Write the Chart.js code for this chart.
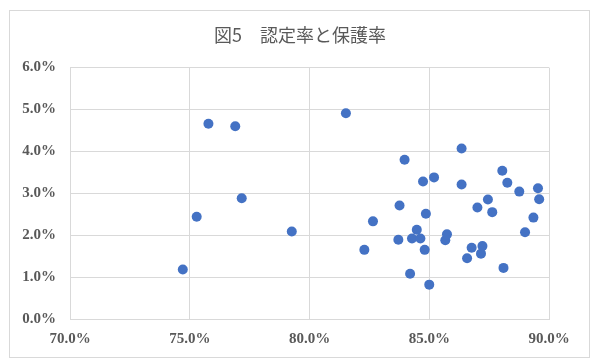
<!DOCTYPE html>
<html>
<head>
<meta charset="utf-8">
<script src="https://cdn.jsdelivr.net/npm/chart.js@4"></script>
<style>
    body { margin: 0; background: #fff; }
    #wrap { position: relative; width: 600px; height: 363px; }
    #frame { position: absolute; left: 9px; top: 10px; width: 579px; height: 346px; border: 1px solid #d9d9d9; }
    #chart { position: absolute; left: 0; top: 0; }
</style>
</head>
<body>
<div id="wrap">
    <div id="frame"></div>
    <canvas id="chart" width="600" height="363"></canvas>
</div>
<script>
// 認定率 (x, %) and 保護率 (y, %)
const ninteiRate = [
    74.71, 75.29, 75.78, 76.90, 77.17, 79.26,
    81.52, 82.29, 82.65, 83.71, 83.76, 83.97, 84.20, 84.28, 84.48, 84.63,
    84.74, 84.81, 84.86, 85.00, 85.20, 85.67, 85.74, 86.35, 86.35, 86.58,
    86.77, 87.01, 87.16, 87.22, 87.45, 87.63, 88.05, 88.10, 88.26, 88.76,
    89.00, 89.35, 89.54, 89.59
];
const hogoRate = [
    1.18, 2.44, 4.66, 4.60, 2.88, 2.09,
    4.91, 1.65, 2.33, 1.89, 2.71, 3.80, 1.08, 1.92, 2.13, 1.92,
    3.28, 1.65, 2.51, 0.82, 3.38, 1.88, 2.02, 4.07, 3.21, 1.45,
    1.70, 2.66, 1.56, 1.74, 2.85, 2.55, 3.54, 1.22, 3.25, 3.04,
    2.07, 2.42, 3.12, 2.86
];
const xTicks = [70, 75, 80, 85, 90];
const yTicks = [0, 1, 2, 3, 4, 5, 6];

const points = ninteiRate.map((x, i) => ({ x: x, y: hogoRate[i] }));

const tickFont = { family: "'Liberation Serif', 'Times New Roman', serif", size: 15, weight: "bold" };
const gridColor = "#d9d9d9";

const ctx = document.getElementById("chart").getContext("2d");
new Chart(ctx, {
    type: "scatter",
    data: {
        datasets: [{
            label: "保護率",
            data: points,
            backgroundColor: "#4472c4",
            borderColor: "#4472c4",
            borderWidth: 0,
            pointRadius: 5,
            pointHoverRadius: 5
        }]
    },
    options: {
        responsive: false,
        animation: false,
        layout: { padding: 0 },
        plugins: {
            legend: { display: false },
            tooltip: { enabled: false },
            title: {
                display: true,
                text: "図5　認定率と保護率",
                color: "#595959",
                font: { family: "'Noto Sans CJK JP', sans-serif", size: 18, weight: "normal" },
                padding: { top: 24, bottom: 22 }
            }
        },
        scales: {
            x: {
                type: "linear",
                min: xTicks[0],
                max: xTicks[xTicks.length - 1],
                afterBuildTicks: (axis) => { axis.ticks = xTicks.map(v => ({ value: v })); },
                afterFit: (axis) => { axis.height = 44; },
                ticks: {
                    color: "#595959",
                    font: tickFont,
                    padding: 11,
                    maxRotation: 0,
                    callback: (v) => v.toFixed(1) + "%"
                },
                grid: { color: gridColor, drawTicks: false },
                border: { color: gridColor }
            },
            y: {
                type: "linear",
                min: yTicks[0],
                max: yTicks[yTicks.length - 1],
                afterBuildTicks: (axis) => { axis.ticks = yTicks.map(v => ({ value: v })); },
                afterFit: (axis) => { axis.width = 70; },
                ticks: {
                    color: "#595959",
                    font: tickFont,
                    padding: 14,
                    callback: (v) => v.toFixed(1) + "%"
                },
                grid: { color: gridColor, drawTicks: false },
                border: { color: gridColor }
            },
            // empty right axis, only keeps the space on the right
            yRight: {
                type: "linear",
                position: "right",
                min: 0,
                max: 1,
                afterFit: (axis) => { axis.width = 51; },
                ticks: { display: false },
                grid: { display: false, drawTicks: false },
                border: { display: false }
            }
        }
    }
});
</script>
</body>
</html>
